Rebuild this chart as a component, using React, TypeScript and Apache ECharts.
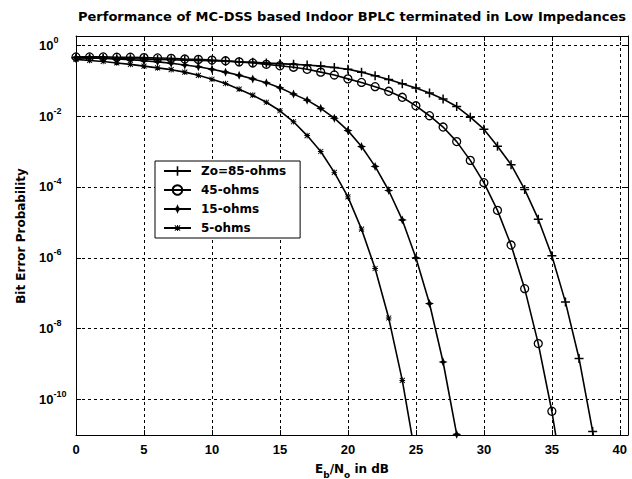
import React, { useEffect, useRef } from "react";
import * as echarts from "echarts";

// Eb/No in dB (markers are placed at every integer dB)
const EBN0_DB = [
  0, 1, 2, 3, 4, 5, 6, 7, 8, 9, 10, 11, 12, 13, 14, 15, 16, 17, 18, 19,
  20, 21, 22, 23, 24, 25, 26, 27, 28, 29, 30, 31, 32, 33, 34, 35, 36, 37, 38, 39,
];

// log10 of the bit error probability
const LOG_BER_85 = [
  -0.36, -0.37, -0.37, -0.38, -0.38, -0.39, -0.4, -0.41, -0.42, -0.43,
  -0.44, -0.45, -0.47, -0.48, -0.5, -0.52, -0.54, -0.56, -0.59, -0.63,
  -0.68, -0.76, -0.86, -0.97, -1.09, -1.21, -1.35, -1.52, -1.73, -2.03,
  -2.37, -2.85, -3.37, -4.07, -4.91, -5.94, -7.25, -8.84, -10.9, -13.4,
];
const LOG_BER_45 = [
  -0.33, -0.33, -0.33, -0.34, -0.34, -0.35, -0.36, -0.37, -0.39, -0.4,
  -0.42, -0.44, -0.47, -0.5, -0.54, -0.58, -0.62, -0.68, -0.76, -0.84,
  -0.95, -1.05, -1.17, -1.3, -1.47, -1.71, -1.99, -2.31, -2.72, -3.25,
  -3.88, -4.66, -5.64, -6.87, -8.42, -10.33, -12.7,
];
const LOG_BER_15 = [
  -0.34, -0.35, -0.37, -0.39, -0.41, -0.44, -0.47, -0.51, -0.56, -0.61,
  -0.68, -0.76, -0.85, -0.95, -1.06, -1.2, -1.38, -1.55, -1.78, -2.06,
  -2.41, -2.86, -3.42, -4.1, -4.93, -6.0, -7.29, -8.94, -10.98, -13.5,
];
const LOG_BER_5 = [
  -0.4, -0.43, -0.46, -0.5, -0.54, -0.59, -0.64, -0.69, -0.76, -0.85,
  -0.96, -1.08, -1.24, -1.41, -1.61, -1.85, -2.16, -2.55, -3.0, -3.59,
  -4.28, -5.19, -6.3, -7.7, -9.46, -11.66,
];

const SERIES_NAMES = ["Zo=85-ohms", "45-ohms", "15-ohms", "5-ohms"];
const Y_TICK_EXPONENTS = [0, -2, -4, -6, -8, -10];

const TITLE = "Performance of MC-DSS based Indoor BPLC terminated in Low Impedances";
const Y_LABEL = "Bit Error Probability";

const TICK_FONT = "'Liberation Sans', Arial, Helvetica, sans-serif";
const TEXT_FONT = "'DejaVu Sans', Verdana, sans-serif";

const PLUS =
  "path://M3.75,0h1.5v3.75h3.75v1.5h-3.75v3.75h-1.5v-3.75h-3.75v-1.5h3.75z";
const STAR4 =
  "path://M5,0L6.5,3.5L10,5L6.5,6.5L5,10L3.5,6.5L0,5L3.5,3.5Z";
const ASTER =
  "path://M-3,-3h0.01v0.01h-0.01z M13,13h0.01v0.01h-0.01z M4.2,0h1.6v10h-1.6z M0,4.2h10v1.6h-10z M0,1.1L1.1,0L10,8.9L8.9,10z M8.9,0L10,1.1L1.1,10L0,8.9z";

const pair = (ys: number[]) => ys.map((v, i) => [EBN0_DB[i], v]);

export default function App() {
  const ref = useRef<HTMLDivElement>(null);
  useEffect(() => {
    if (!ref.current) return;
    const chart = echarts.init(ref.current, null, { renderer: "svg" });
    const X_MAX = 40.6;
    const Y_MIN = -11;
    const Y_MAX = 0.26;
    const tickLen = 5 / 13.6;

    const lineBase = {
      type: "line" as const,
      showAllSymbol: true,
      clip: true,
      lineStyle: { color: "#000", width: 1.6 },
      color: "#000",
      z: 3,
    };

    const option: any = {
      animation: false,
      backgroundColor: "#fff",
      grid: { left: 76, right: 4, top: 36, bottom: 44, containLabel: false },
      legend: {
        orient: "vertical",
        left: 155,
        top: 161,
        data: SERIES_NAMES,
        itemWidth: 27,
        itemHeight: 12,
        itemGap: 7,
        padding: [4, 14, 4, 8],
        backgroundColor: "#fff",
        borderColor: "#000",
        borderWidth: 1,
        borderRadius: 0,
        selectedMode: false,
        textStyle: {
          fontFamily: TEXT_FONT,
          fontSize: 12,
          fontWeight: "bold",
          color: "#000",
          padding: [0, 0, 0, 5],
        },
      },
      xAxis: [
        {
          type: "value",
          min: 0,
          max: X_MAX,
          interval: 5,
          position: "bottom",
          axisLine: { show: true, onZero: false, lineStyle: { color: "#000", width: 1 } },
          axisTick: { show: true, inside: true, length: 5, lineStyle: { color: "#000" } },
          axisLabel: {
            showMaxLabel: false,
            margin: 8,
            color: "#000",
            fontFamily: TICK_FONT,
            fontSize: 13,
            fontWeight: "bold",
          },
          splitLine: { show: true, lineStyle: { color: "#000", type: [3, 3], width: 1 } },
        },
        {
          type: "value",
          min: 0,
          max: X_MAX,
          interval: 5,
          position: "top",
          axisLine: { show: true, onZero: false, lineStyle: { color: "#000", width: 1 } },
          axisTick: { show: true, inside: true, length: 5, lineStyle: { color: "#000" } },
          axisLabel: { show: false },
          splitLine: { show: false },
        },
      ],
      yAxis: [
        {
          type: "value",
          min: Y_MIN,
          max: Y_MAX,
          interval: 1,
          position: "left",
          axisLine: { show: true, onZero: false, lineStyle: { color: "#000", width: 1 } },
          axisTick: { show: false },
          axisLabel: {
            showMaxLabel: false,
            margin: 37,
            align: "left",
            color: "#000",
            formatter: (v: number) =>
              Number.isInteger(v) && v % 2 === 0 ? `{b|10}{s|${v === 0 ? 0 : v}}` : "",
            rich: {
              b: {
                fontFamily: TICK_FONT,
                fontSize: 13,
                fontWeight: "bold",
                color: "#000",
                lineHeight: 20,
                verticalAlign: "middle",
              },
              s: {
                fontFamily: TICK_FONT,
                fontSize: 9,
                fontWeight: "bold",
                color: "#000",
                verticalAlign: "top",
              },
            },
          },
          splitLine: {
            show: true,
            lineStyle: { color: ["rgba(0,0,0,0)", "#000"], type: [3, 3], width: 1 },
          },
        },
        {
          type: "value",
          min: Y_MIN,
          max: Y_MAX,
          interval: 1,
          position: "right",
          axisLine: { show: true, onZero: false, lineStyle: { color: "#000", width: 1 } },
          axisTick: { show: false },
          axisLabel: { show: false },
          splitLine: { show: false },
        },
      ],
      graphic: [
        {
          type: "text",
          x: 352,
          y: 16,
          style: {
            text: TITLE,
            font: `bold 13px ${TEXT_FONT}`,
            fill: "#000",
            align: "center",
            verticalAlign: "middle",
          },
        },
        {
          type: "text",
          x: 21,
          y: 236,
          rotation: Math.PI / 2,
          style: {
            text: Y_LABEL,
            font: `bold 12px ${TEXT_FONT}`,
            fill: "#000",
            align: "center",
            verticalAlign: "middle",
          },
        },
        {
          type: "text",
          x: 352,
          y: 469,
          style: {
            text: "{a|E}{u|b}{a|/N}{u|o}{a| in dB}",
            align: "center",
            verticalAlign: "middle",
            rich: {
              a: {
                fontFamily: TEXT_FONT,
                fontSize: 12,
                fontWeight: "bold",
                fill: "#000",
                lineHeight: 20,
                verticalAlign: "middle",
              },
              u: {
                fontFamily: TEXT_FONT,
                fontSize: 9,
                fontWeight: "bold",
                fill: "#000",
                verticalAlign: "bottom",
              },
            },
          },
        },
      ],
      series: [
        {
          ...lineBase,
          name: SERIES_NAMES[0],
          data: pair(LOG_BER_85),
          symbol: PLUS,
          symbolSize: 9,
          itemStyle: { color: "#000", borderWidth: 0 },
        },
        {
          ...lineBase,
          name: SERIES_NAMES[1],
          data: pair(LOG_BER_45),
          symbol: "circle",
          symbolSize: 8,
          itemStyle: { color: "rgba(0,0,0,0)", borderColor: "#000", borderWidth: 1.3 },
        },
        {
          ...lineBase,
          name: SERIES_NAMES[2],
          data: pair(LOG_BER_15),
          symbol: STAR4,
          symbolSize: 9,
          itemStyle: { color: "#000", borderWidth: 0 },
        },
        {
          ...lineBase,
          name: SERIES_NAMES[3],
          data: pair(LOG_BER_5),
          symbol: ASTER,
          symbolSize: 9,
          itemStyle: { color: "#000", borderWidth: 0 },
        },
        {
          type: "line",
          name: "yticks",
          data: [],
          silent: true,
          markLine: {
            silent: true,
            symbol: "none",
            label: { show: false },
            lineStyle: { color: "#000", type: "solid", width: 1 },
            data: [
              ...Y_TICK_EXPONENTS.map((e) => [
                { coord: [0, e] },
                { coord: [tickLen, e] },
              ]),
              ...Y_TICK_EXPONENTS.map((e) => [
                { coord: [X_MAX - tickLen, e] },
                { coord: [X_MAX, e] },
              ]),
            ],
          },
        },
      ],
    };
    chart.setOption(option);
    return () => chart.dispose();
  }, []);
  return (
    <div
      ref={ref}
      style={{ position: "fixed", left: 0, top: 0, width: 632, height: 479, background: "#fff" }}
    />
  );
}
